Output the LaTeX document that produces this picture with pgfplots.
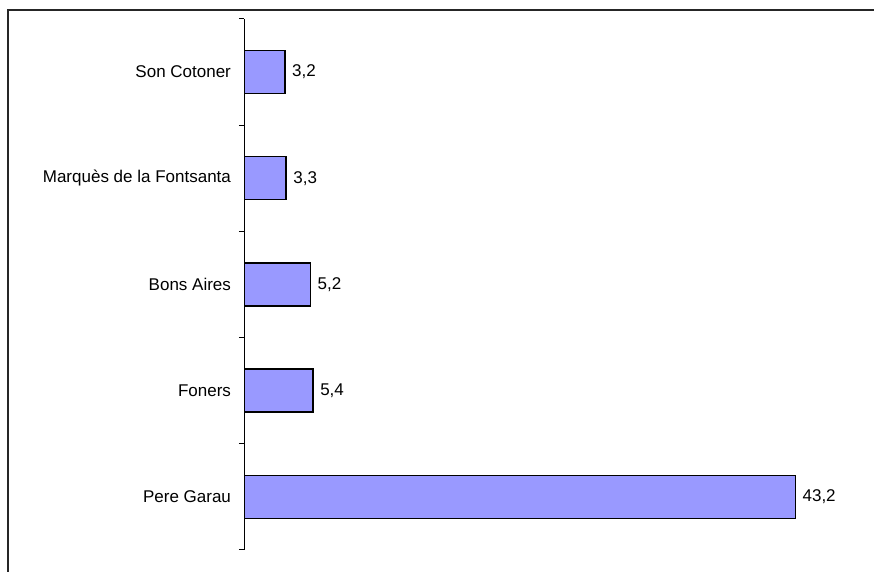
\documentclass[border=0pt]{standalone}
\usepackage{pgfplots}
\pgfplotsset{compat=1.18}
\usepackage{fontspec}
\setmainfont{Liberation Sans}
\definecolor{barfill}{HTML}{9999FF}
\begin{document}
\begin{tikzpicture}
\path[use as bounding box] (0pt,0pt) rectangle (437pt,-286pt);
\draw[line width=0.8pt, black!85] (4pt,-290pt) -- (4pt,-5pt) -- (440pt,-5pt);
\begin{axis}[
  at={(122pt,-9.5pt)}, anchor=north west,
  scale only axis, width=306.25pt, height=265.5pt,
  xmin=0, xmax=48, ymin=-0.5, ymax=4.5,
  axis x line=none, axis y line*=left,
  axis line style={black, line width=0.5pt},
  xbar, bar width=21.5pt,
  ytick={0,1,2,3,4},
  yticklabels={Pere Garau, Foners, Bons Aires, Marquès de la Fontsanta, Son Cotoner},
  minor ytick={-0.5,0.5,1.5,2.5,3.5,4.5},
  major tick length=0pt, minor tick length=2.5pt,
  tick align=outside,
  every tick/.style={black, line width=0.5pt},
  y tick label style={font=\fontsize{8.5}{10}\selectfont, xshift=-3pt},
  nodes near coords,
  nodes near coords style={font=\fontsize{8.5}{10}\selectfont, anchor=west},
  /pgf/number format/.cd, use comma, fixed, precision=1, fixed zerofill, assume math mode=true,
]
\addplot[fill=barfill, draw=black, line width=0.7pt] coordinates {
  (43.2,0) (5.4,1) (5.2,2) (3.3,3) (3.2,4)
};
\end{axis}
\end{tikzpicture}
\end{document}
